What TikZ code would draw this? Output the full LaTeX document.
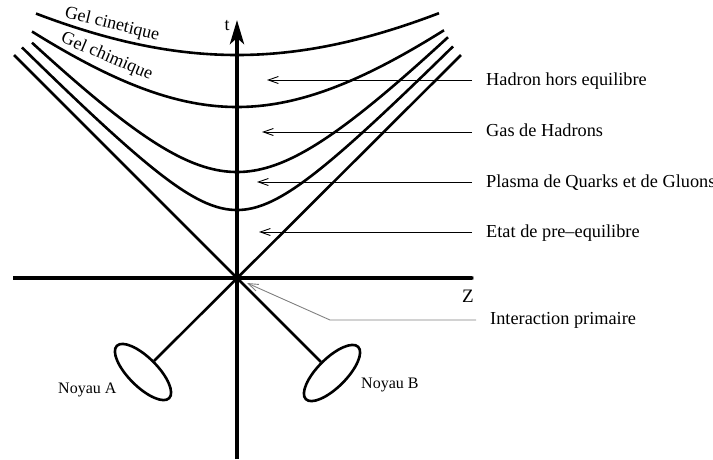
\documentclass[tikz,border=0pt]{standalone}
\usepackage{fontspec}
\setmainfont{Liberation Serif}
\usetikzlibrary{arrows.meta,shapes.geometric}
\begin{document}
\begin{tikzpicture}[x=10pt,y=-10pt,
  curve/.style={line width=2.6pt},
  lab/.style={line width=0.9pt,-{Straight Barb[length=10pt,width=7pt]}},
  lbl/.style={font=\fontsize{18.3}{20}\selectfont, inner sep=0pt, anchor=base west},
  nucleus/.style={draw, ellipse, line width=2.6pt, minimum width=74pt, minimum height=29pt, inner sep=0pt}]
\useasboundingbox (0,0) rectangle (71.3,45.9);
% key points
\coordinate (O) at (23.7,27.8);
\coordinate (tB) at (23.7,45.9);
\coordinate (tT) at (23.7,2.0);
\coordinate (zL) at (1.3,27.8);
\coordinate (zR) at (48.0,27.8);
\coordinate (lT) at (1.4,5.5);
\coordinate (rT) at (46.1,5.5);
% axes
\draw[line width=4pt, -{Stealth[length=24pt,width=14pt,inset=6pt]}] (tB) -- (tT);
\draw[line width=3.4pt, -{Stealth[length=28pt,width=11pt,inset=16pt]}] (zL) -- (zR);
\node[font=\fontsize{19}{20}\selectfont, inner sep=0pt] (lZ) at (46.8,29.6) {Z};
\node[font=\fontsize{18}{20}\selectfont, inner sep=0pt] (lt) at (22.7,2.6) {t};
% nuclei
\node[nucleus, rotate=-45] (NA) at (14.3,37.2) {};
\node[nucleus, rotate=45] (NB) at (33.2,37.3) {};
\draw[curve] (rT) -- (NA.north);
\draw[curve] (lT) -- (NB.north);
% hyperbolas
\draw[curve] plot[domain=-21.5:21.6, samples=90, smooth] ({23.7+\x},{27.8-sqrt(6.8*6.8+1.05*\x*\x)});
\draw[curve] plot[domain=-20.5:21.1, samples=90, smooth] ({23.7+\x},{27.8-sqrt(10.6*10.6+1.05*\x*\x)});
\draw[curve] plot[domain=-20.5:20.7, samples=90, smooth] ({23.7+\x},{27.8-sqrt(17.1*17.1+0.75*\x*\x)});
\draw[curve] plot[domain=-20.1:20.2, samples=90, smooth] ({23.7+\x},{27.8-sqrt(22.3*22.3+0.5*\x*\x)});
\node[font=\fontsize{18}{20}\selectfont, inner sep=0pt, anchor=base, rotate=-13.5] (gk) at (11.1,2.9) {Gel cinetique};
\node[font=\fontsize{18}{20}\selectfont, inner sep=0pt, anchor=base, rotate=-23] (gc) at (10.5,6.1) {Gel chimique};
% labels
\node[lbl] (lH) at (48.6,8.5) {Hadron hors equilibre};
\node[lbl] (lG) at (48.6,13.6) {Gas de Hadrons};
\node[lbl] (lP) at (48.6,18.7) {Plasma de Quarks et de Gluons};
\node[lbl] (lE) at (48.6,23.7) {Etat de pre--equilibre};
\node[lbl] (lI) at (49.0,32.4) {Interaction primaire};
\node[lbl, font=\fontsize{16}{18}\selectfont] (lA) at (5.8,39.3) {Noyau A};
\node[lbl, font=\fontsize{16}{18}\selectfont] (lB) at (36.1,38.8) {Noyau B};
\coordinate (hS) at (47.2,8.0);  \coordinate (hT) at (26.7,8.0);
\coordinate (gS) at (47.2,13.2); \coordinate (gT) at (26.2,13.2);
\coordinate (pS) at (47.2,18.2); \coordinate (pT) at (25.7,18.2);
\coordinate (eS) at (47.2,23.2); \coordinate (eT) at (25.9,23.2);
\draw[lab] (hS) -- (hT);
\draw[lab] (gS) -- (gT);
\draw[lab] (pS) -- (pT);
\draw[lab] (eS) -- (eT);
\coordinate (iS) at (47.6,32.0);
\coordinate (iK) at (33.0,32.0);
\coordinate (iT) at (24.7,28.3);
\draw[lab, gray] (iS) -- (iK) -- (iT);
\end{tikzpicture}
\end{document}
